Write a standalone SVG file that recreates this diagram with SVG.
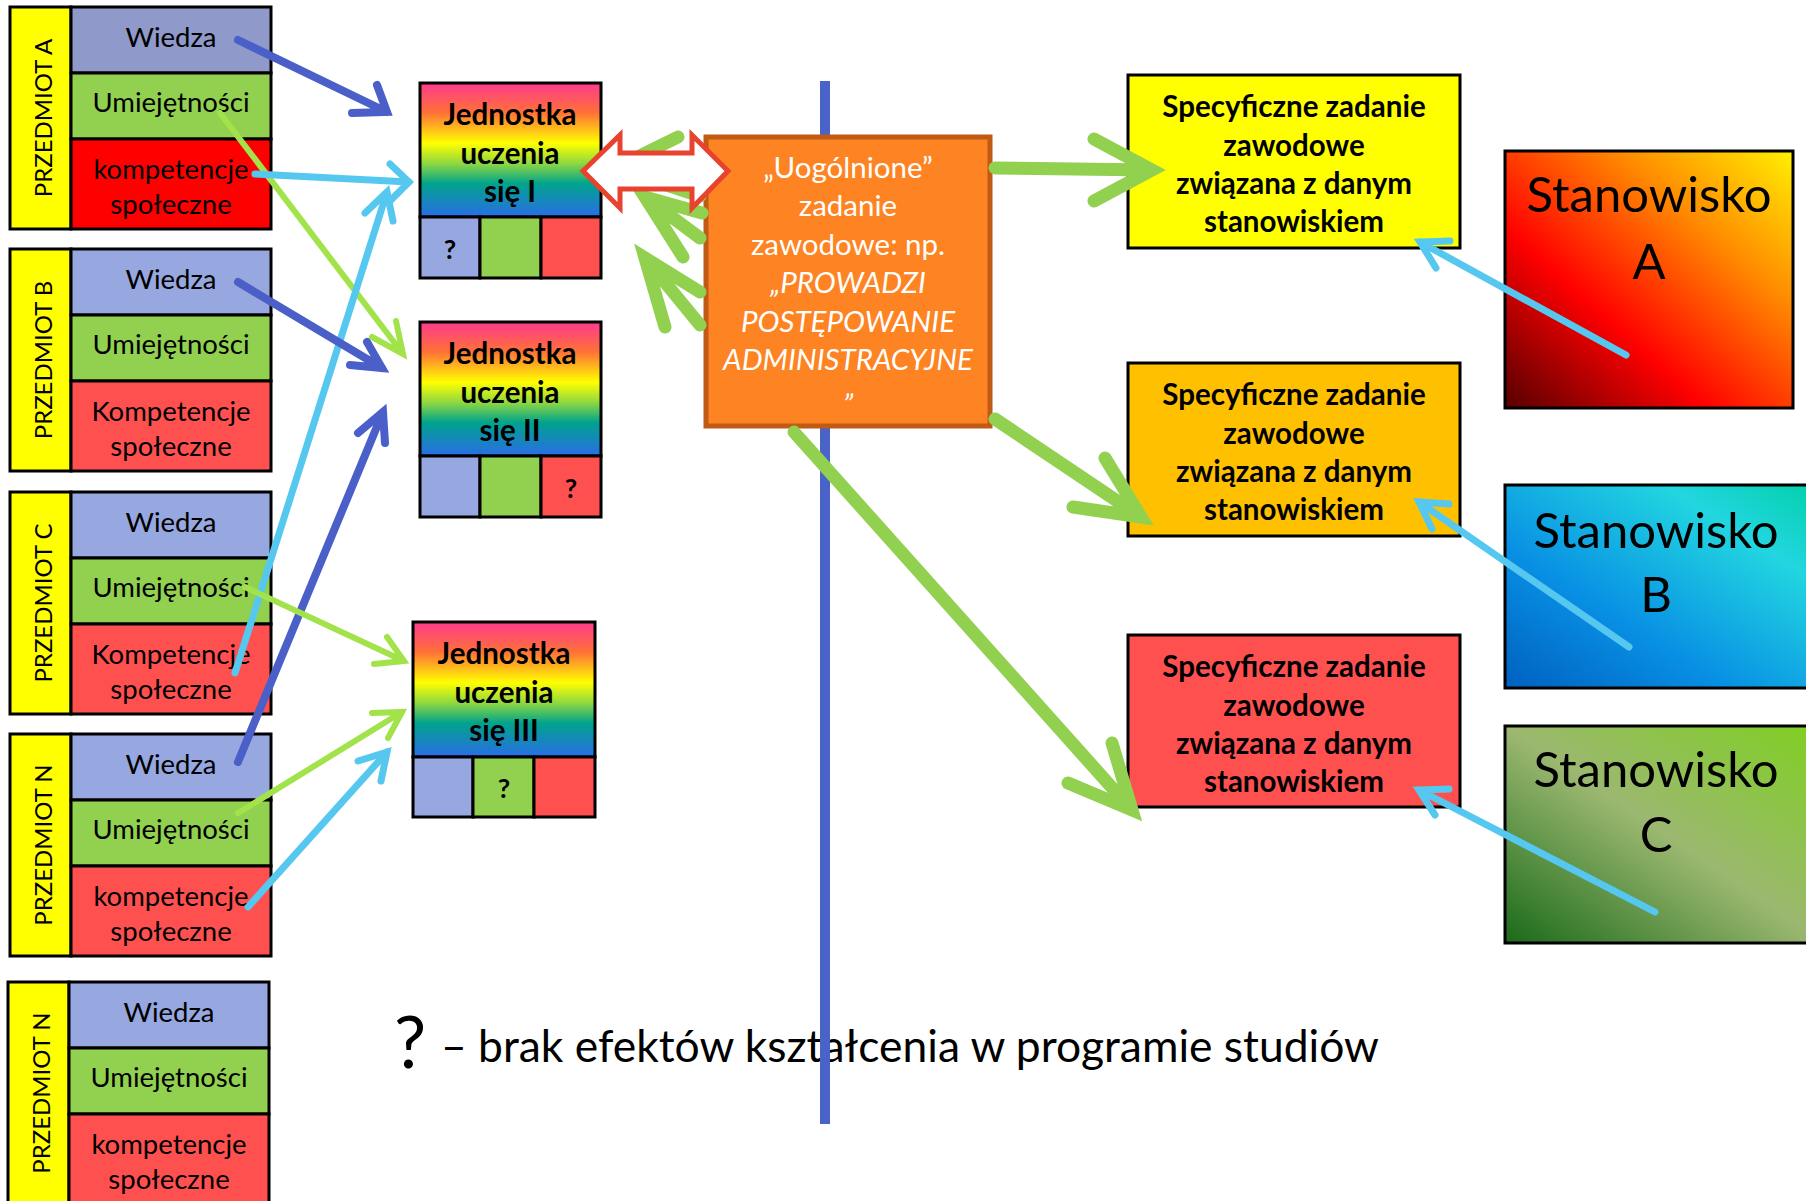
<svg xmlns="http://www.w3.org/2000/svg" width="1806" height="1201" viewBox="0 0 1806 1201">
<defs>
<style>
.t{font-family:Lato,"Liberation Sans",sans-serif;dominant-baseline:central;text-anchor:middle;fill:#000}
.sub{font-size:27.5px}
.vert{font-size:24px}
.jb{font-size:29.5px;font-weight:bold}
.q{font-size:27px;font-weight:bold}
.spec{font-size:29.5px;font-weight:bold}
.stan{font-size:49px}
.or{font-size:29.5px;fill:#fff}
.it{font-style:italic}
.bx{stroke:#000;stroke-width:3}
.cell{stroke:#000;stroke-width:3}
.arr{fill:none;stroke-linecap:round;stroke-linejoin:miter}
.db{stroke:#4A5FC8;stroke-width:8}
.lg{stroke:#A2E34B;stroke-width:6}
.lb{stroke:#56C8F0;stroke-width:7}
.gg{stroke:#92D050;stroke-width:13}
.rb{stroke:#56C8F0;stroke-width:7}
</style>
<linearGradient id="rain" x1="0" y1="0" x2="0" y2="1">
<stop offset="0" stop-color="#FF3A8E"/>
<stop offset="0.22" stop-color="#FF7038"/>
<stop offset="0.45" stop-color="#FFFF00"/>
<stop offset="0.6" stop-color="#8FD840"/>
<stop offset="0.75" stop-color="#00A38C"/>
<stop offset="1" stop-color="#2A6DE8"/>
</linearGradient>
<linearGradient id="gA" x1="0" y1="1" x2="1" y2="0">
<stop offset="0" stop-color="#550000"/>
<stop offset="0.35" stop-color="#FF0000"/>
<stop offset="0.7" stop-color="#FF8C00"/>
<stop offset="1" stop-color="#FFF000"/>
</linearGradient>
<linearGradient id="gB" x1="0" y1="1" x2="1" y2="0">
<stop offset="0" stop-color="#0060C0"/>
<stop offset="0.35" stop-color="#0890E4"/>
<stop offset="0.75" stop-color="#22D6E0"/>
<stop offset="1" stop-color="#00D0A8"/>
</linearGradient>
<linearGradient id="gC" x1="0" y1="1" x2="1" y2="0">
<stop offset="0" stop-color="#1A6A1A"/>
<stop offset="0.5" stop-color="#9CB870"/>
<stop offset="1" stop-color="#7ED020"/>
</linearGradient>
</defs>
<rect width="1806" height="1201" fill="#fff"/>

<!-- legend -->
<g id="legend">
<text class="t" x="410" y="1040" style="font-size:72px">?</text>
<text x="441" y="1062" style="font-family:Lato,'Liberation Sans',sans-serif;font-size:44.4px">– brak efektów kształcenia w programie studiów</text>
</g>

<!-- vertical divider -->
<g id="divider"><line x1="825" y1="81" x2="825" y2="1124" stroke="#4A63C8" stroke-width="10"/></g>

<!-- subject boxes -->
<g id="przedmiot-a">
<rect x="10" y="7" width="61" height="222" fill="#FFFF00" class="bx"/>
<rect x="71" y="7" width="200" height="66" fill="#8F99CA" class="bx"/>
<rect x="71" y="73" width="200" height="66" fill="#92D050" class="bx"/>
<rect x="71" y="139" width="200" height="90" fill="#FF0000" class="bx"/>
<text class="t vert" transform="translate(42 118) rotate(-90)">PRZEDMIOT A</text>
<text class="t sub" x="171" y="36">Wiedza</text>
<text class="t sub" x="171" y="101">Umiejętności</text>
<text class="t sub" x="171" y="168">kompetencje</text>
<text class="t sub" x="171" y="203">społeczne</text>
</g>
<g id="przedmiot-b">
<rect x="10" y="249" width="61" height="222" fill="#FFFF00" class="bx"/>
<rect x="71" y="249" width="200" height="66" fill="#97A7E0" class="bx"/>
<rect x="71" y="315" width="200" height="66" fill="#92D050" class="bx"/>
<rect x="71" y="381" width="200" height="90" fill="#FF5050" class="bx"/>
<text class="t vert" transform="translate(42 360) rotate(-90)">PRZEDMIOT B</text>
<text class="t sub" x="171" y="278">Wiedza</text>
<text class="t sub" x="171" y="343">Umiejętności</text>
<text class="t sub" x="171" y="410">Kompetencje</text>
<text class="t sub" x="171" y="445">społeczne</text>
</g>
<g id="przedmiot-c">
<rect x="10" y="492" width="61" height="222" fill="#FFFF00" class="bx"/>
<rect x="71" y="492" width="200" height="66" fill="#97A7E0" class="bx"/>
<rect x="71" y="558" width="200" height="66" fill="#92D050" class="bx"/>
<rect x="71" y="624" width="200" height="90" fill="#FF5050" class="bx"/>
<text class="t vert" transform="translate(42 603) rotate(-90)">PRZEDMIOT C</text>
<text class="t sub" x="171" y="521">Wiedza</text>
<text class="t sub" x="171" y="586">Umiejętności</text>
<text class="t sub" x="171" y="653">Kompetencje</text>
<text class="t sub" x="171" y="688">społeczne</text>
</g>
<g id="przedmiot-n">
<rect x="10" y="734" width="61" height="222" fill="#FFFF00" class="bx"/>
<rect x="71" y="734" width="200" height="66" fill="#97A7E0" class="bx"/>
<rect x="71" y="800" width="200" height="66" fill="#92D050" class="bx"/>
<rect x="71" y="866" width="200" height="90" fill="#FF5050" class="bx"/>
<text class="t vert" transform="translate(42 845) rotate(-90)">PRZEDMIOT N</text>
<text class="t sub" x="171" y="763">Wiedza</text>
<text class="t sub" x="171" y="828">Umiejętności</text>
<text class="t sub" x="171" y="895">kompetencje</text>
<text class="t sub" x="171" y="930">społeczne</text>
</g>
<g id="przedmiot-n2">
<rect x="8" y="982" width="61" height="230" fill="#FFFF00" class="bx"/>
<rect x="69" y="982" width="200" height="66" fill="#97A7E0" class="bx"/>
<rect x="69" y="1048" width="200" height="66" fill="#92D050" class="bx"/>
<rect x="69" y="1114" width="200" height="98" fill="#FF5050" class="bx"/>
<text class="t vert" transform="translate(40 1093) rotate(-90)">PRZEDMIOT N</text>
<text class="t sub" x="169" y="1011">Wiedza</text>
<text class="t sub" x="169" y="1076">Umiejętności</text>
<text class="t sub" x="169" y="1143">kompetencje</text>
<text class="t sub" x="169" y="1178">społeczne</text>
</g>

<!-- learning units -->
<g id="jednostka-1">
<rect x="420" y="83" width="181" height="134" fill="url(#rain)" class="bx"/>
<rect x="420" y="217" width="60" height="61" fill="#97A7E0" class="cell"/>
<rect x="480" y="217" width="61" height="61" fill="#92D050" class="cell"/>
<rect x="541" y="217" width="60" height="61" fill="#FF5050" class="cell"/>
<text class="t jb" x="510" y="113">Jednostka</text>
<text class="t jb" x="510" y="152">uczenia</text>
<text class="t jb" x="510" y="190">się I</text>
<text class="t q" x="450" y="248">?</text>
</g>
<g id="jednostka-2">
<rect x="420" y="322" width="181" height="134" fill="url(#rain)" class="bx"/>
<rect x="420" y="456" width="60" height="61" fill="#97A7E0" class="cell"/>
<rect x="480" y="456" width="61" height="61" fill="#92D050" class="cell"/>
<rect x="541" y="456" width="60" height="61" fill="#FF5050" class="cell"/>
<text class="t jb" x="510" y="352">Jednostka</text>
<text class="t jb" x="510" y="391">uczenia</text>
<text class="t jb" x="510" y="429">się II</text>
<text class="t q" x="571" y="487">?</text>
</g>
<g id="jednostka-3">
<rect x="413" y="622" width="182" height="135" fill="url(#rain)" class="bx"/>
<rect x="413" y="757" width="60" height="60" fill="#97A7E0" class="cell"/>
<rect x="473" y="757" width="61" height="60" fill="#92D050" class="cell"/>
<rect x="534" y="757" width="61" height="60" fill="#FF5050" class="cell"/>
<text class="t jb" x="504" y="652">Jednostka</text>
<text class="t jb" x="504" y="691">uczenia</text>
<text class="t jb" x="504" y="729">się III</text>
<text class="t q" x="504" y="787">?</text>
</g>

<!-- generalised task -->
<g id="zadanie-ogolne">
<rect x="706" y="137" width="284" height="289" fill="#FE8322" stroke="#C05A14" stroke-width="5"/>
<text class="t or" x="848" y="166">„Uogólnione”</text>
<text class="t or" x="848" y="204">zadanie</text>
<text class="t or" x="848" y="243">zawodowe: np.</text>
<text class="t or it" x="848" y="281">„PROWADZI</text>
<text class="t or it" x="848" y="320">POSTĘPOWANIE</text>
<text class="t or it" x="848" y="358">ADMINISTRACYJNE</text>
<text class="t or it" x="848" y="403">”</text>
</g>

<!-- specific tasks -->
<g id="zadanie-1">
<rect x="1128" y="75" width="332" height="173" fill="#FFFF00" class="bx"/>
<text class="t spec" x="1294" y="105">Specyficzne zadanie</text>
<text class="t spec" x="1294" y="144">zawodowe</text>
<text class="t spec" x="1294" y="182">związana z danym</text>
<text class="t spec" x="1294" y="220">stanowiskiem</text>
</g>
<g id="zadanie-2">
<rect x="1128" y="363" width="332" height="173" fill="#FFC000" class="bx"/>
<text class="t spec" x="1294" y="393">Specyficzne zadanie</text>
<text class="t spec" x="1294" y="432">zawodowe</text>
<text class="t spec" x="1294" y="470">związana z danym</text>
<text class="t spec" x="1294" y="508">stanowiskiem</text>
</g>
<g id="zadanie-3">
<rect x="1128" y="635" width="332" height="172" fill="#FF5050" class="bx"/>
<text class="t spec" x="1294" y="665">Specyficzne zadanie</text>
<text class="t spec" x="1294" y="704">zawodowe</text>
<text class="t spec" x="1294" y="742">związana z danym</text>
<text class="t spec" x="1294" y="780">stanowiskiem</text>
</g>

<!-- positions -->
<g id="stanowisko-a">
<rect x="1505" y="151" width="288" height="257" fill="url(#gA)" class="bx"/>
<text class="t stan" x="1649" y="193">Stanowisko</text>
<text class="t stan" x="1649" y="260">A</text>
</g>
<g id="stanowisko-b">
<rect x="1505" y="485" width="320" height="203" fill="url(#gB)" class="bx"/>
<text class="t stan" x="1656" y="529">Stanowisko</text>
<text class="t stan" x="1656" y="593">B</text>
</g>
<g id="stanowisko-c">
<rect x="1505" y="726" width="320" height="217" fill="url(#gC)" class="bx"/>
<text class="t stan" x="1656" y="768">Stanowisko</text>
<text class="t stan" x="1656" y="833">C</text>
</g>

<!-- connectors -->
<g id="connectors">
<!-- back arrows orange box -> jednostka I -->
<path class="arr gg" d="M700,238 L645,197 M702,213 L645,197 L683,257"/>
<path class="arr gg" d="M700,325 L645,258 M700,292 L645,258 L665,327"/>
<path class="arr gg" d="M700,196 L615,168 M678,137 L615,168"/>
<!-- double arrow -->
<path d="M583,171 L620,135 L620,153 L692,153 L692,135 L728,171 L692,208 L692,189 L620,189 L620,208 Z" fill="#fff" stroke="#E8432E" stroke-width="5" stroke-linejoin="miter"/>
<!-- green arrows to specific tasks -->
<path class="arr gg" d="M995,168 L1152,170 M1094,139 L1152,170 L1094,201"/>
<path class="arr gg" d="M995,419 L1141,517 M1105,458 L1141,517 L1073,507"/>
<path class="arr gg" d="M794,432 L1132,810 M1112,743 L1132,810 L1068,783"/>
<!-- left arrows -->
<path class="arr db" d="M238,40 L387,112 M377,85 L387,112 L352,113"/>
<path class="arr lg" d="M220,113 L403,354 M372,337 L403,354 L396,321"/>
<path class="arr lb" d="M255,174 L409,182 M390,164 L409,182 L391,200"/>
<path class="arr lb" d="M235,673 L387,192 M365,213 L387,192 L393,221"/>
<path class="arr db" d="M238,282 L382,368 M367,342 L382,368 L350,365"/>
<path class="arr db" d="M238,762 L383,412 M358,433 L383,412 L385,443"/>
<path class="arr lg" d="M245,587 L404,661 M387,637 L404,661 L374,664"/>
<path class="arr lg" d="M238,813 L402,712 M372,713 L402,712 L388,738"/>
<path class="arr lb" d="M248,907 L387,752 M358,761 L387,752 L381,781"/>
<!-- positions -> specific tasks -->
<path class="arr rb" d="M1626,355 L1420,242 M1436,268 L1420,242 L1450,241"/>
<path class="arr rb" d="M1629,647 L1419,502 M1432,529 L1419,502 L1449,504"/>
<path class="arr rb" d="M1655,912 L1419,790 M1435,815 L1419,790 L1449,789"/>
</g>
</svg>
